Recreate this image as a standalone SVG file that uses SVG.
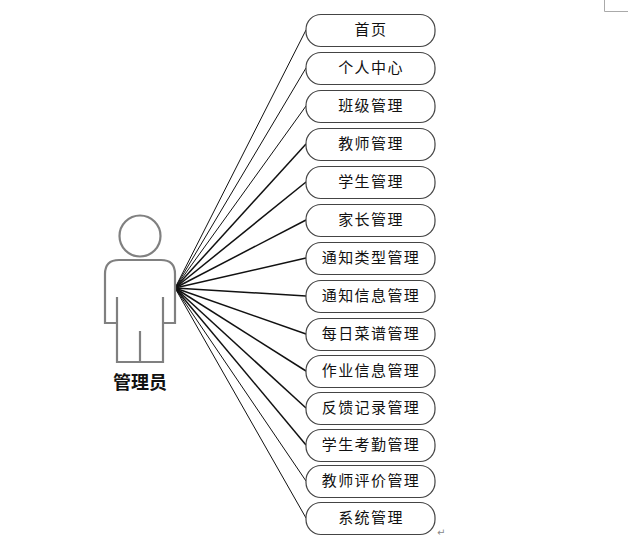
<svg xmlns="http://www.w3.org/2000/svg" width="628" height="540" viewBox="0 0 628 540">
<style>
text{font-family:"Noto Sans CJK SC","Liberation Sans",sans-serif;fill:#111}
.n rect{fill:#fff;stroke:#444;stroke-width:1.2}
.n text{font-size:15px;text-anchor:middle;letter-spacing:1.4px}
.c line{stroke:#111;stroke-width:1}
.c line.b{stroke-width:1.5}
.p{fill:none;stroke:#808080;stroke-width:2.2}
</style>
<rect width="628" height="540" fill="#fff"/>
<path d="M604.5 0V11.5H628" fill="none" stroke="#aaa"/>
<g id="connectors" class="c">
<line x1="175" y1="288" x2="306" y2="30"/>
<line x1="175" y1="288" x2="306" y2="68"/>
<line x1="175" y1="288" x2="306" y2="106"/>
<line class="b" x1="175" y1="288" x2="306" y2="144"/>
<line class="b" x1="175" y1="288" x2="306" y2="182"/>
<line class="b" x1="175" y1="288" x2="306" y2="220"/>
<line class="b" x1="175" y1="288" x2="306" y2="258"/>
<line class="b" x1="175" y1="288" x2="306" y2="296"/>
<line class="b" x1="175" y1="288" x2="306" y2="334"/>
<line class="b" x1="175" y1="288" x2="306" y2="371"/>
<line class="b" x1="175" y1="288" x2="306" y2="408"/>
<line class="b" x1="175" y1="288" x2="306" y2="445"/>
<line x1="175" y1="288" x2="306" y2="481"/>
<line x1="175" y1="288" x2="306" y2="518"/>
</g>
<g id="actor">
<circle class="p" cx="140" cy="236" r="20.5"/>
<path class="p" d="M117 297V323H105V274Q105 260 119 260H161Q175 260 175 274V323H163V297M117 323V362H163V323M140 331V362"/>
<text x="140" y="389" font-size="18" font-weight="700" text-anchor="middle">管理员</text>
</g>
<g id="n1" class="n"><rect x="306" y="14.5" width="129" height="32" rx="15"/><text x="371" y="35">首页</text></g>
<g id="n2" class="n"><rect x="306" y="52.5" width="129" height="32" rx="15"/><text x="371" y="73">个人中心</text></g>
<g id="n3" class="n"><rect x="306" y="90.5" width="129" height="32" rx="15"/><text x="371" y="111">班级管理</text></g>
<g id="n4" class="n"><rect x="306" y="128.5" width="129" height="32" rx="15"/><text x="371" y="149">教师管理</text></g>
<g id="n5" class="n"><rect x="306" y="166.5" width="129" height="32" rx="15"/><text x="371" y="187">学生管理</text></g>
<g id="n6" class="n"><rect x="306" y="204.5" width="129" height="32" rx="15"/><text x="371" y="225">家长管理</text></g>
<g id="n7" class="n"><rect x="306" y="242.5" width="129" height="32" rx="15"/><text x="371" y="263">通知类型管理</text></g>
<g id="n8" class="n"><rect x="306" y="280.5" width="129" height="32" rx="15"/><text x="371" y="301">通知信息管理</text></g>
<g id="n9" class="n"><rect x="306" y="318.5" width="129" height="32" rx="15"/><text x="371" y="339">每日菜谱管理</text></g>
<g id="n10" class="n"><rect x="306" y="355.5" width="129" height="32" rx="15"/><text x="371" y="376">作业信息管理</text></g>
<g id="n11" class="n"><rect x="306" y="392.5" width="129" height="32" rx="15"/><text x="371" y="413">反馈记录管理</text></g>
<g id="n12" class="n"><rect x="306" y="429.5" width="129" height="32" rx="15"/><text x="371" y="450">学生考勤管理</text></g>
<g id="n13" class="n"><rect x="306" y="465.5" width="129" height="32" rx="15"/><text x="371" y="486">教师评价管理</text></g>
<g id="n14" class="n"><rect x="306" y="502.5" width="129" height="32" rx="15"/><text x="371" y="523">系统管理</text></g>
<text x="437" y="536" font-size="10" style="font-family:'DejaVu Sans',sans-serif;fill:#888">↵</text>
</svg>
